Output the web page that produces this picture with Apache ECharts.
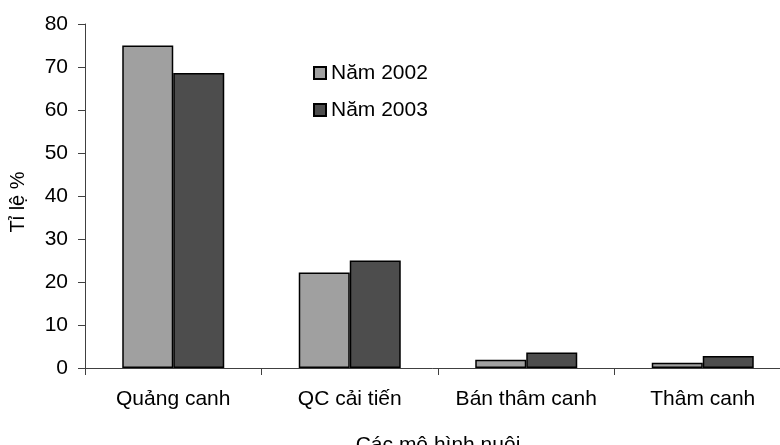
<!DOCTYPE html>
<html>
<head>
<meta charset="utf-8">
<script src="https://cdn.jsdelivr.net/npm/echarts@6/dist/echarts.min.js"></script>
<style>
  html, body { margin: 0; padding: 0; background: #fff; }
  #chart { width: 780px; height: 445px; }
</style>
</head>
<body>
<div id="chart"></div>
<script>
// Farming models and share (%) per year
const categories = ['Quảng canh', 'QC cải tiến', 'Bán thâm canh', 'Thâm canh'];
const seriesNames = ['Năm 2002', 'Năm 2003'];
const values2002 = [75, 22.2, 1.9, 1.2];
const values2003 = [68.6, 25, 3.6, 2.8];
const yTicks = { min: 0, max: 80, interval: 10 };
const xTitle = 'Các mô hình nuôi';
const yTitle = 'Tỉ lệ %';

const FONT = '"Liberation Sans", Arial, sans-serif';
const FS = 21;
const chart = echarts.init(document.getElementById('chart'), null, { renderer: 'canvas' });

const barStyle = (color) => ({ color: color, borderColor: '#000', borderWidth: 1.5 });

chart.setOption({
  animation: false,
  backgroundColor: '#fff',
  grid: { left: 85, top: 24, width: 706, height: 344, containLabel: false, outerBoundsMode: 'none' },
  legend: {
    orient: 'vertical',
    left: 308,
    top: 56,
    itemWidth: 12,
    itemHeight: 12,
    itemGap: 13,
    icon: 'rect',
    textStyle: { fontFamily: FONT, fontSize: FS, color: '#000', lineHeight: 24 },
    data: seriesNames
  },
  graphic: [{
    type: 'text',
    x: 18,
    y: 202,
    rotation: Math.PI / 2,
    style: {
      text: yTitle,
      fontFamily: FONT,
      fontSize: 20,
      fill: '#000',
      align: 'center',
      verticalAlign: 'middle'
    }
  }],
  xAxis: {
    type: 'category',
    data: categories,
    name: xTitle,
    nameLocation: 'middle',
    nameGap: 67,
    nameTextStyle: { fontFamily: FONT, fontSize: FS, color: '#000' },
    axisLine: { lineStyle: { color: '#404040', width: 1 } },
    axisTick: { show: true, interval: 0, length: 7, alignWithLabel: false, lineStyle: { color: '#404040' } },
    axisLabel: { interval: 0, hideOverlap: false, fontFamily: FONT, fontSize: FS, color: '#000', margin: 21 }
  },
  yAxis: {
    type: 'value',
    min: yTicks.min,
    max: yTicks.max,
    interval: yTicks.interval,
    axisLine: { show: true, lineStyle: { color: '#404040', width: 1 } },
    axisTick: { show: true, length: 7, lineStyle: { color: '#404040' } },
    axisLabel: { fontFamily: FONT, fontSize: FS, color: '#000', margin: 17 },
    splitLine: { show: false }
  },
  series: [
    {
      name: seriesNames[0],
      type: 'bar',
      data: values2002,
      barWidth: 51,
      barGap: '0%',
      itemStyle: barStyle('#a0a0a0')
    },
    {
      name: seriesNames[1],
      type: 'bar',
      data: values2003,
      barWidth: 51,
      barGap: '0%',
      itemStyle: barStyle('#4d4d4d')
    }
  ]
});
</script>
</body>
</html>
